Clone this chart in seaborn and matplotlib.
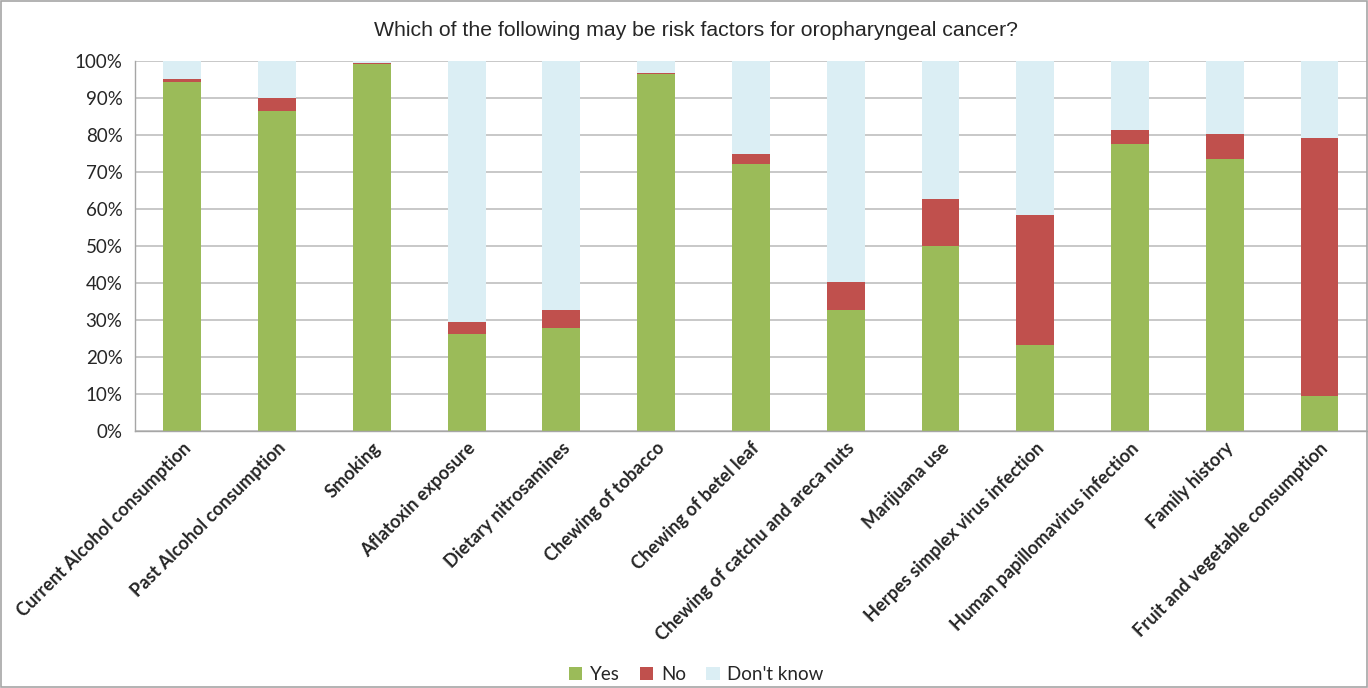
import matplotlib
matplotlib.use("Agg")
import matplotlib.pyplot as plt
import seaborn as sns
import numpy as np
import pandas as pd
from matplotlib.patches import Rectangle
from matplotlib.ticker import PercentFormatter, FixedLocator

# survey answers, % of respondents
categories = ["Current Alcohol consumption", "Past Alcohol consumption", "Smoking",
              "Aflatoxin exposure", "Dietary nitrosamines", "Chewing of tobacco",
              "Chewing of betel leaf", "Chewing of catchu and areca nuts", "Marijuana use",
              "Herpes simplex virus infection", "Human papillomavirus infection",
              "Family history", "Fruit and vegetable consumption"]
yes = [94.4, 86.5, 99.3, 26.2, 27.8, 96.6, 72.2, 32.8, 50.0, 23.3, 77.6, 73.5, 9.6]
no = [0.8, 3.4, 0.1, 3.3, 4.9, 0.2, 2.6, 7.6, 12.6, 35.2, 3.8, 6.7, 69.7]
dont_know = [4.8, 10.1, 0.6, 70.5, 67.3, 3.2, 25.2, 59.6, 37.4, 41.5, 18.6, 19.8, 20.7]

colors = {"Yes": "#9BBB59", "No": "#C0504D", "Don't know": "#DBEEF4"}

df = pd.DataFrame({"cat": categories, "Yes": yes, "No": no, "Don't know": dont_know})
df["top_no"] = df["Yes"] + df["No"]
df["top_dk"] = df["top_no"] + df["Don't know"]

sns.set_style("white")
plt.rcParams["font.family"] = ["Lato", "DejaVu Sans"]

fig = plt.figure(figsize=(13.68, 6.88), dpi=100)
ax = fig.add_axes([0.0987, 0.3735, 0.9005, 0.5378])

# stacked bars: draw cumulative tops from back to front
for col, lab in [("top_dk", "Don't know"), ("top_no", "No"), ("Yes", "Yes")]:
    sns.barplot(data=df, x="cat", y=col, color=colors[lab], width=0.4,
                saturation=1, linewidth=0, ax=ax, label=lab)

ax.set_ylim(0, 100)
ax.set_xlim(-0.5, len(categories) - 0.5)
ax.set_yticks(np.arange(0, 101, 10))
ax.yaxis.set_major_formatter(PercentFormatter(decimals=0))
ax.grid(axis="y", color="#bfbfbf", linewidth=1.2)
ax.set_axisbelow(True)
ax.set_xlabel("")
ax.set_ylabel("")

for s in ["top", "right"]:
    ax.spines[s].set_visible(False)
for s in ["left", "bottom"]:
    ax.spines[s].set_color("#a6a6a6")
    ax.spines[s].set_linewidth(1.0)

ax.tick_params(axis="y", length=5, color="#a6a6a6", labelsize=13.5, pad=4)
ax.tick_params(axis="x", which="major", length=0, pad=6)
ax.xaxis.set_minor_locator(FixedLocator(np.arange(-0.5, len(categories), 1)))
ax.tick_params(axis="x", which="minor", length=5, color="#a6a6a6")
ax.set_xticks(range(len(categories)))
ax.set_xticklabels(categories, rotation=45, ha="right", rotation_mode="anchor",
                   fontsize=13.1, fontweight="bold")

fig.text(0.509, 0.955, "Which of the following may be risk factors for oropharyngeal cancer?",
         ha="center", va="center", fontsize=15.3, family=["Liberation Sans", "DejaVu Sans"])

handles, labels = ax.get_legend_handles_labels()
order = [labels.index(k) for k in ["Yes", "No", "Don't know"]]
fig.legend([handles[i] for i in order], [labels[i] for i in order],
           loc="center", bbox_to_anchor=(0.509, 0.02), ncol=3, frameon=False,
           fontsize=13.5, handlelength=0.7, handleheight=0.7, handletextpad=0.4,
           columnspacing=1.1)
if ax.get_legend():
    ax.get_legend().remove()

fig.patches.append(Rectangle((0.0005, 0.001), 0.999, 0.998, transform=fig.transFigure,
                             fill=False, edgecolor="#a6a6a6", linewidth=1.2))

fig.savefig("out.png", dpi=100)
